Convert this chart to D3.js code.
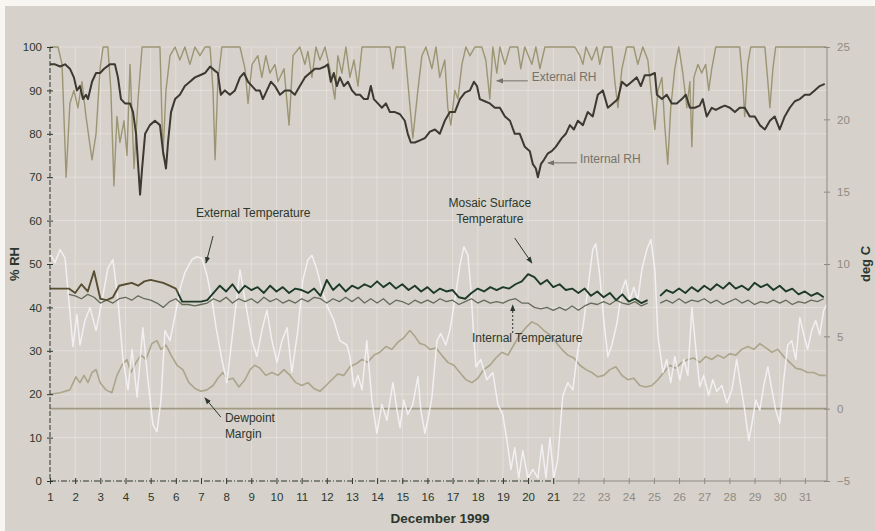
<!DOCTYPE html>
<html>
<head>
<meta charset="utf-8">
<script src="https://cdn.jsdelivr.net/npm/d3@7"></script>
<style>
  html, body { margin: 0; padding: 0; background: #f7f6f3; }
  svg { display: block; font-family: "Liberation Sans", Arial, sans-serif; }
</style>
</head>
<body>
<div id="chart"></div>
<script>
/* ===================================================================
   December 1999 — RH / temperature record (scanned chart, redrawn)
   left axis % RH, right axis deg C, x = day of month
   =================================================================== */
(function () {
  "use strict";

  // ---- data -------------------------------------------------------
  // [day, % RH]
  var extRh = [[1.00,100],[1.32,100],[1.48,96],[1.64,70],[1.79,87],[1.95,90],[2.11,86],[2.27,92],[2.43,84],
    [2.67,74],[2.83,80],[2.99,95],[3.11,100],[3.30,100],[3.42,90],[3.54,68],[3.66,84],[3.78,78],[3.94,83],
    [4.06,75],[4.18,96],[4.34,72],[4.50,88],[4.66,100],[4.97,100],[5.17,100],[5.37,100],[5.49,75],[5.61,90],
    [5.77,98],[5.97,100],[6.16,97],[6.36,100],[6.56,96],[6.76,100],[6.96,98],[7.16,100],[7.36,100],[7.48,90],
    [7.56,74],[7.67,92],[7.83,100],[8.15,100],[8.55,100],[8.75,95],[8.87,87],[9.03,96],[9.26,98],[9.42,93],
    [9.58,98],[9.74,94],[9.94,96],[10.06,92],[10.30,95],[10.50,82],[10.66,98],[10.93,100],[11.13,96],
    [11.25,99],[11.41,93],[11.57,100],[11.73,97],[11.93,100],[12.12,95],[12.32,88],[12.44,98],[12.60,94],
    [12.76,100],[12.92,93],[13.08,97],[13.24,91],[13.40,100],[13.71,100],[14.11,100],[14.51,100],[14.63,95],
    [14.75,100],[15.10,100],[15.22,92],[15.42,79],[15.62,90],[15.78,98],[15.94,100],[16.18,95],[16.34,100],
    [16.49,93],[16.69,97],[16.81,86],[16.93,82],[17.09,90],[17.21,88],[17.37,96],[17.53,100],[17.69,98],
    [17.89,100],[18.16,100],[18.32,97],[18.48,88],[18.60,100],[18.76,94],[18.88,100],[19.08,96],[19.28,100],
    [19.59,100],[19.71,95],[19.87,100],[20.15,96],[20.31,100],[20.47,95],[20.67,100],[21.06,100],[21.46,100],
    [21.86,100],[22.06,98],[22.18,96],[22.30,100],[22.53,97],[22.73,100],[22.85,96],[23.01,100],[23.33,100],
    [23.45,92],[23.57,86],[23.73,95],[23.92,100],[24.20,100],[24.36,96],[24.56,100],[24.76,97],[24.92,88],
    [25.04,81],[25.16,90],[25.32,93],[25.43,82],[25.55,73],[25.67,86],[25.83,95],[25.99,100],[26.15,94],
    [26.31,86],[26.43,92],[26.51,77],[26.59,93],[26.75,96],[26.90,94],[27.06,96],[27.18,90],[27.30,95],
    [27.46,100],[28.02,100],[28.41,100],[28.53,92],[28.61,84],[28.73,96],[28.85,100],[29.41,100],[29.53,92],
    [29.61,86],[29.73,95],[29.84,100],[30.80,100],[31.87,100]];

  var intRh = [[1.00,96],[1.20,96],[1.40,95.5],[1.60,96],[1.79,95],[1.95,93],[2.07,90],[2.19,91],[2.31,88],
    [2.43,89],[2.51,88],[2.67,92],[2.83,94],[2.99,94],[3.15,95],[3.38,96],[3.58,96],[3.70,93],[3.82,88],
    [3.98,87],[4.18,87],[4.30,85],[4.42,80],[4.50,73],[4.58,66],[4.66,72],[4.78,80],[4.97,82],[5.17,83],
    [5.37,82],[5.49,76],[5.61,72],[5.69,78],[5.81,85],[5.97,88],[6.16,89],[6.36,91],[6.56,92],[6.76,93],
    [6.96,93.5],[7.16,94],[7.36,95.5],[7.56,94.5],[7.67,94],[7.79,89],[7.95,90],[8.15,89],[8.35,90],[8.55,93],
    [8.71,94],[8.87,92],[9.03,91],[9.18,90],[9.34,90],[9.46,88],[9.62,90],[9.78,92],[9.94,91],[10.14,89],
    [10.34,90],[10.54,90],[10.73,89],[10.93,91],[11.13,93],[11.33,94],[11.53,95],[11.73,95],[11.93,95.5],
    [12.04,96],[12.16,92],[12.28,94],[12.40,91],[12.52,93],[12.68,91],[12.84,92],[13.00,90],[13.16,89],
    [13.32,89],[13.48,88],[13.63,88],[13.75,91],[13.87,88],[14.03,87],[14.19,86],[14.35,87],[14.51,85],
    [14.71,85],[14.91,84.5],[15.10,83],[15.22,80],[15.34,78],[15.50,78],[15.70,78.5],[15.90,79],[16.10,80.5],
    [16.30,81],[16.49,80],[16.69,83],[16.89,85],[17.09,85],[17.29,88],[17.49,89.5],[17.69,90],[17.85,92],
    [17.97,91],[18.08,88],[18.28,87.5],[18.48,87],[18.68,86],[18.88,86],[19.08,84],[19.28,83],[19.47,80],
    [19.67,80],[19.87,77],[20.07,76],[20.19,73],[20.31,72],[20.39,70],[20.51,73],[20.63,74],[20.79,75.5],
    [20.94,76],[21.10,77],[21.34,79],[21.50,80],[21.66,82],[21.82,81],[21.98,83],[22.18,82],[22.37,85],
    [22.57,84],[22.77,89],[22.97,90],[23.17,86],[23.37,87],[23.57,88],[23.73,92],[23.92,91],[24.12,92],
    [24.32,93],[24.48,91],[24.64,93.5],[24.84,93.5],[25.04,94],[25.12,89],[25.32,88],[25.51,89],[25.71,87],
    [25.91,87],[26.11,88],[26.27,89],[26.43,86],[26.63,86],[26.82,86.5],[26.94,88],[27.10,84],[27.30,86],
    [27.46,85.5],[27.62,86],[27.82,86.5],[28.02,86],[28.22,85],[28.41,86],[28.61,86],[28.81,84],[29.01,84],
    [29.21,82],[29.41,81],[29.61,83],[29.80,84],[30.00,81],[30.20,84],[30.40,86],[30.60,87.5],[30.80,88],
    [31.00,89],[31.19,89],[31.39,90],[31.59,91],[31.79,91.5]];

  // [day, deg C]
  var extTemp = [[1.00,10.7],[1.20,10.1],[1.40,11.0],[1.60,10.4],[1.75,7.5],[1.91,4.3],[2.07,6.5],[2.19,4.4],
    [2.39,6.1],[2.59,7.0],[2.83,5.4],[3.07,7.5],[3.30,9.7],[3.50,10.3],[3.70,7.5],[3.90,3.4],[4.10,1.3],
    [4.26,4.1],[4.46,0.8],[4.69,5.6],[4.89,2.0],[5.09,-1.1],[5.25,-1.6],[5.41,0.6],[5.57,5.4],[5.77,4.7],
    [6.01,6.8],[6.20,8.5],[6.36,9.4],[6.64,10.3],[6.84,10.5],[7.04,10.4],[7.24,9.2],[7.44,7.5],[7.60,5.6],
    [7.83,3.4],[8.03,1.8],[8.27,5.4],[8.55,9.6],[8.75,7.5],[9.03,4.7],[9.22,3.6],[9.42,5.4],[9.62,6.8],
    [9.82,4.7],[10.02,3.2],[10.22,4.7],[10.42,5.6],[10.61,2.5],[10.85,5.4],[11.05,8.9],[11.25,10.3],
    [11.41,10.6],[11.61,9.6],[11.81,8.2],[12.04,7.0],[12.28,6.1],[12.52,4.7],[12.80,4.4],[12.92,3.6],
    [13.08,1.5],[13.24,2.3],[13.40,1.3],[13.59,4.7],[13.79,0.6],[13.99,-1.7],[14.19,0.3],[14.39,-0.8],
    [14.63,1.8],[14.79,-0.1],[14.91,-1.3],[15.06,0.6],[15.22,-0.4],[15.42,0.3],[15.62,2.2],[15.74,-0.1],
    [15.90,-1.7],[16.06,-0.4],[16.18,0.8],[16.38,4.7],[16.53,5.2],[16.73,4.4],[16.89,5.4],[17.09,7.5],
    [17.29,9.9],[17.45,11.2],[17.61,10.6],[17.73,8.2],[17.85,4.7],[17.93,2.9],[18.12,3.4],[18.36,2.0],
    [18.60,2.5],[18.80,0.3],[18.99,-0.4],[19.16,-2.2],[19.32,-4.2],[19.47,-2.7],[19.63,-4.8],[19.79,-2.9],
    [19.99,-4.8],[20.19,-4.2],[20.39,-4.8],[20.55,-2.5],[20.71,-4.8],[20.87,-2.0],[21.02,-4.8],[21.18,-3.5],
    [21.38,0.9],[21.58,1.8],[21.78,1.3],[21.98,4.1],[22.18,5.6],[22.37,8.2],[22.57,11.0],[22.69,11.4],
    [22.85,9.2],[23.01,6.1],[23.17,3.6],[23.33,4.4],[23.53,5.9],[23.73,8.2],[23.88,8.9],[24.04,7.5],
    [24.20,8.4],[24.36,7.5],[24.52,9.6],[24.72,11.0],[24.88,11.7],[25.04,9.6],[25.16,5.0],[25.36,2.5],
    [25.51,3.4],[25.67,1.8],[25.83,3.6],[26.03,2.0],[26.19,3.4],[26.35,2.3],[26.51,7.0],[26.67,4.1],
    [26.82,1.5],[26.98,2.3],[27.18,0.9],[27.34,2.0],[27.50,1.2],[27.70,1.6],[27.90,0.4],[28.10,1.3],
    [28.29,3.4],[28.45,1.6],[28.61,-0.1],[28.77,-2.2],[28.89,-1.1],[29.05,0.6],[29.21,-0.1],[29.37,1.6],
    [29.53,2.9],[29.69,1.3],[29.84,-0.1],[30.00,-1.0],[30.16,2.0],[30.32,4.4],[30.48,4.7],[30.64,3.4],
    [30.80,6.3],[30.96,5.1],[31.11,4.1],[31.27,5.4],[31.43,6.1],[31.59,5.1],[31.75,6.8],[31.87,7.2]];

  // logger readings every 6 h from 1 Dec 00:00 (null = no reading)
  var mosaicQ = [8.3,8.3,8.3,8.3, 8.0,8.6,8.1,9.5, 7.6,7.5,7.7,8.5, 8.6,8.7,8.5,8.8, 8.9,8.8,8.7,8.5,
    8.3,7.4,7.4,7.4, 7.4,7.5,8.0,8.5, 8.1,8.6,8.0,8.5, 8.2,8.4,8.0,8.5, 8.1,8.4,8.0,8.3,
    8.2,8.0,8.3,7.8, 8.9,8.2,8.6,8.1, 8.5,8.3,8.6,8.4, 8.8,8.4,8.7,8.3, 8.6,8.2,8.5,8.1,
    8.4,8.0,8.3,8.1, 8.2,7.7,7.6,8.0, 8.3,8.1,8.4,8.2, 8.4,8.3,8.6,8.8, 9.3,9.1,8.6,8.9,
    8.4,8.6,8.2,8.3, 8.0,8.3,7.8,8.1, 7.7,8.0,7.5,7.9, 7.4,7.6,7.3,7.5, null,7.8,8.2,8.0,
    8.3,8.0,8.4,8.1, 8.5,8.2,8.6,8.3, 8.7,8.3,8.5,8.2, 8.7,8.4,8.6,8.2, 8.5,8.1,8.3,7.9,
    8.1,7.8,8.0,7.7];

  var intTempQ = [null,null,null,7.9, 7.8,7.6,7.9,7.7, 7.3,7.5,7.3,7.6, 7.7,7.5,7.8,7.6, 7.5,7.3,7.0,7.4,
    7.6,7.2,7.2,7.1, 7.2,7.3,7.6,7.4, 7.7,7.3,7.6,7.4, 7.6,7.3,7.7,7.4, 7.6,7.3,7.5,7.3,
    7.6,7.4,7.7,7.6, 7.3,7.6,7.4,7.7, 7.4,7.7,7.3,7.6, 7.3,7.6,7.2,7.5, 7.4,7.2,7.5,7.3,
    7.5,7.3,7.6,7.4, 7.5,7.2,7.4,7.6, 7.3,7.5,7.3,7.4, 7.3,7.5,7.6,7.3, 7.3,7.0,6.9,7.0,
    6.8,7.0,6.8,7.1, 6.8,7.1,7.3,7.2, 7.4,7.2,7.5,7.3, 7.2,7.4,7.1,7.3, null,7.3,7.5,7.3,
    7.6,7.3,7.5,7.4, 7.6,7.3,7.5,7.2, 7.4,7.6,7.3,7.5, 7.2,7.4,7.3,7.5, 7.3,7.5,7.2,7.4,
    7.3,7.5,7.4,7.6];

  var dewMargin = [[1.00,1.0],[1.40,1.1],[1.79,1.3],[2.03,2.2],[2.19,1.8],[2.35,2.3],[2.51,1.8],[2.67,2.5],
    [2.83,2.7],[2.99,1.8],[3.22,1.3],[3.46,1.1],[3.66,2.3],[3.86,3.0],[4.06,3.4],[4.22,2.5],[4.42,3.2],
    [4.62,3.7],[4.81,3.4],[5.05,4.5],[5.25,4.7],[5.41,4.1],[5.61,4.4],[5.81,3.7],[6.05,3.0],[6.28,2.7],
    [6.52,1.8],[6.76,1.4],[7.00,1.2],[7.24,1.3],[7.48,1.6],[7.67,2.1],[7.87,2.5],[8.07,2.0],[8.27,2.1],
    [8.51,1.5],[8.75,2.0],[8.95,2.7],[9.14,3.0],[9.34,2.8],[9.58,2.3],[9.82,2.5],[10.06,2.3],[10.30,2.7],
    [10.54,2.3],[10.77,1.8],[11.01,1.6],[11.25,1.8],[11.49,1.4],[11.73,1.2],[11.97,1.6],[12.20,2.0],
    [12.44,2.4],[12.68,2.3],[12.92,2.9],[13.16,3.1],[13.40,3.4],[13.63,3.2],[13.87,3.7],[14.11,3.9],
    [14.35,4.3],[14.59,4.1],[14.83,4.6],[15.06,4.9],[15.30,5.4],[15.50,5.0],[15.70,4.5],[15.90,4.4],
    [16.10,4.1],[16.34,4.2],[16.57,3.7],[16.81,3.2],[17.05,3.0],[17.29,2.5],[17.53,2.0],[17.77,1.8],
    [18.00,2.1],[18.24,2.7],[18.48,3.0],[18.72,3.5],[18.96,3.9],[19.20,3.7],[19.43,4.4],[19.67,5.1],
    [19.91,5.6],[20.15,6.0],[20.39,5.8],[20.63,5.4],[20.87,5.1],[21.10,4.6],[21.34,4.1],[21.58,3.7],
    [21.82,3.5],[22.06,3.0],[22.30,2.7],[22.53,2.5],[22.77,2.2],[23.01,2.3],[23.25,2.7],[23.49,2.9],
    [23.73,2.3],[23.96,2.0],[24.20,2.1],[24.44,1.6],[24.68,1.5],[24.92,1.6],[25.16,2.0],[25.39,2.5],
    [25.63,3.0],[25.87,2.8],[26.11,3.2],[26.35,3.4],[26.59,3.5],[26.82,3.2],[27.06,3.6],[27.30,3.4],
    [27.54,3.7],[27.78,3.5],[28.02,3.8],[28.26,3.7],[28.49,4.1],[28.73,4.3],[28.97,4.1],[29.21,4.5],
    [29.45,4.2],[29.69,3.9],[29.92,4.1],[30.16,3.6],[30.40,3.2],[30.64,2.8],[30.88,2.7],[31.11,2.5],
    [31.35,2.5],[31.59,2.3],[31.83,2.3]];

  var dayTicks = d3.range(1, 32);
  var rhTicks = d3.range(0, 101, 10);
  var degTicks = d3.range(-5, 26, 5);

  // ---- palette ---------------------------------------------------
  var C = {
    paper: "#d6d1ca", grid: "rgba(255,255,255,0.3)", ink: "#2c372d", inkSoft: "#76736b",
    faint: "#8f8b83", extRh: "#9b9574", intRh: "#3b3930", extT: "rgba(247,245,250,0.85)",
    mosaic: "#1d3a26", mosaicEarly: "#574e31", intT: "#656b5a", dew: "#aaa58b", zero: "#a29b84"
  };

  var W = 875, H = 531;
  var x = d3.scaleLinear().domain([1, 31.88]).range([50, 827]);
  var yL = d3.scaleLinear().domain([0, 100]).range([481, 47]);
  var yR = d3.scaleLinear().domain([-5, 25]).range([481, 47]);

  var svg = d3.select("#chart").append("svg").attr("width", W).attr("height", H);
  svg.append("rect").attr("x", 5).attr("y", 6).attr("width", W - 5).attr("height", H - 6).attr("fill", C.paper);

  var defs = svg.append("defs");
  defs.append("marker").attr("id", "ah").attr("viewBox", "0 0 8 8")
    .attr("refX", 7).attr("refY", 4).attr("markerWidth", 7).attr("markerHeight", 7)
    .attr("orient", "auto")
    .append("path").attr("d", "M0,1 L8,4 L0,7 Z").attr("fill", C.ink);
  defs.append("marker").attr("id", "ahGrey").attr("viewBox", "0 0 8 8")
    .attr("refX", 7).attr("refY", 4).attr("markerWidth", 7).attr("markerHeight", 7)
    .attr("orient", "auto")
    .append("path").attr("d", "M0,1 L8,4 L0,7 Z").attr("fill", C.inkSoft);

  // early part of the surface trace prints brownish on the scan
  var split = (x(6.1) - x(1)) / (x(31.88) - x(1));
  var grad = defs.append("linearGradient").attr("id", "mosaicGrad")
    .attr("gradientUnits", "userSpaceOnUse")
    .attr("x1", x(1)).attr("x2", x(31.88)).attr("y1", 0).attr("y2", 0);
  grad.append("stop").attr("offset", split).attr("stop-color", C.mosaicEarly);
  grad.append("stop").attr("offset", split).attr("stop-color", C.mosaic);

  // ---- grid --------------------------------------------------------
  var grid = svg.append("g");
  grid.selectAll("line.v").data(dayTicks.slice(1)).enter().append("line")
    .attr("x1", function (d) { return x(d); }).attr("x2", function (d) { return x(d); })
    .attr("y1", yL(100)).attr("y2", yL(0))
    .attr("stroke", C.grid).attr("stroke-width", 1);
  grid.selectAll("line.h").data(rhTicks.slice(1)).enter().append("line")
    .attr("x1", x(1)).attr("x2", x(31.88))
    .attr("y1", function (d) { return yL(d); }).attr("y2", function (d) { return yL(d); })
    .attr("stroke", C.grid).attr("stroke-width", 1);

  // 0 deg C reference
  svg.append("line").attr("x1", x(1)).attr("x2", x(31.88))
    .attr("y1", yR(0)).attr("y2", yR(0))
    .attr("stroke", C.zero).attr("stroke-width", 1.6);

  // ---- series ------------------------------------------------------
  function quarter(arr) {
    return arr.map(function (v, i) { return [1 + i / 4, v]; });
  }
  var lineL = d3.line().defined(function (d) { return d[1] != null; })
    .x(function (d) { return x(d[0]); }).y(function (d) { return yL(d[1]); });
  var lineR = d3.line().defined(function (d) { return d[1] != null; })
    .x(function (d) { return x(d[0]); }).y(function (d) { return yR(d[1]); });

  function draw(data, gen, color, width) {
    return svg.append("path").datum(data).attr("d", gen)
      .attr("fill", "none").attr("stroke", color).attr("stroke-width", width)
      .attr("stroke-linejoin", "round");
  }

  draw(dewMargin, lineR, C.dew, 1.6);
  draw(extTemp, lineR, C.extT, 1.5);
  draw(quarter(intTempQ), lineR, C.intT, 1.3);
  draw(quarter(mosaicQ), lineR, "url(#mosaicGrad)", 1.9);
  draw(extRh, lineL, C.extRh, 1.4);
  draw(intRh, lineL, C.intRh, 2);

  // ---- axes --------------------------------------------------------
  var axL = svg.append("g").attr("transform", "translate(" + x(1) + ",0)")
    .call(d3.axisLeft(yL).tickValues(rhTicks).tickSize(3).tickPadding(5));
  var axB = svg.append("g").attr("transform", "translate(0," + yL(0) + ")")
    .call(d3.axisBottom(x).tickValues(dayTicks).tickSize(3).tickPadding(9));
  var axR = svg.append("g").attr("transform", "translate(" + x(31.88) + ",0)")
    .call(d3.axisRight(yR).tickValues(degTicks).tickSize(3).tickPadding(7));

  [axL, axB, axR].forEach(function (a) {
    a.select(".domain").remove();
    a.selectAll("text").attr("font-family", "Liberation Sans, Arial, sans-serif").attr("font-size", 11.5);
  });
  axL.selectAll(".tick line").attr("x1", 3).attr("stroke", C.ink);
  axL.selectAll(".tick text").attr("fill", C.ink);
  axB.selectAll(".tick line").attr("y1", -3).attr("stroke", function (d) { return d > 21 ? C.faint : C.ink; });
  axB.selectAll(".tick text").attr("fill", function (d) { return d > 21 ? C.faint : C.ink; });
  axR.selectAll(".tick line").attr("x1", -3).attr("stroke", C.faint);
  axR.selectAll(".tick text").attr("fill", C.faint);

  // axis lines (dashed on the dark part of the scan, faded grey on the right)
  svg.append("line").attr("x1", x(1)).attr("x2", x(1)).attr("y1", yL(100)).attr("y2", yL(0))
    .attr("stroke", C.ink).attr("stroke-width", 1).attr("stroke-dasharray", "5,2");
  svg.append("line").attr("x1", x(1)).attr("x2", x(21.1)).attr("y1", yL(0)).attr("y2", yL(0))
    .attr("stroke", C.ink).attr("stroke-width", 1).attr("stroke-dasharray", "6,2,1,2");
  svg.append("line").attr("x1", x(21.1)).attr("x2", x(31.88)).attr("y1", yL(0)).attr("y2", yL(0))
    .attr("stroke", C.faint).attr("stroke-width", 1);
  svg.append("line").attr("x1", x(31.88)).attr("x2", x(31.88)).attr("y1", yR(25)).attr("y2", yR(-5))
    .attr("stroke", C.faint).attr("stroke-width", 1);

  // axis titles
  svg.append("text").attr("transform", "translate(19," + yL(50) + ") rotate(-90)")
    .attr("text-anchor", "middle").attr("font-weight", "bold").attr("font-size", 13)
    .attr("fill", C.ink).text("% RH");
  svg.append("text").attr("transform", "translate(870," + yR(10) + ") rotate(-90)")
    .attr("text-anchor", "middle").attr("font-weight", "bold").attr("font-size", 13)
    .attr("fill", C.ink).text("deg C");
  svg.append("text").attr("x", x(16.5)).attr("y", 523)
    .attr("text-anchor", "middle").attr("font-weight", "bold").attr("font-size", 13.5)
    .attr("fill", C.ink).text("December 1999");

  // ---- annotations (positions in data units) -----------------------
  var notes = [
    { lines: ["External RH"], at: [20.15, 92.2], sc: yL, color: C.inkSoft, marker: "ahGrey",
      from: [19.99, 92.2], to: [18.76, 92.2] },
    { lines: ["Internal RH"], at: [22.06, 73.3], sc: yL, color: C.inkSoft, marker: "ahGrey",
      from: [21.94, 73.3], to: [20.79, 73.3] },
    { lines: ["External Temperature"], at: [6.8, 13.24], sc: yR, color: C.ink, marker: "ah",
      from: [7.48, 11.93], to: [7.20, 10.07] },
    { lines: ["Mosaic Surface", "Temperature"], at: [18.48, 13.94], sc: yR, color: C.ink, marker: "ah",
      anchor: "middle", from: [19.47, 11.79], to: [20.15, 10.07] },
    { lines: ["Internal Temperature"], at: [17.77, 4.6], sc: yR, color: C.ink, marker: "ah",
      from: [19.39, 5.23], to: [19.39, 7.16], dash: "2,2" },
    { lines: ["Dewpoint", "Margin"], at: [7.95, -0.92], sc: yR, color: C.ink, marker: "ah",
      from: [7.79, -0.58], to: [7.16, 0.74] }
  ];

  notes.forEach(function (n) {
    var t = svg.append("text").attr("x", x(n.at[0])).attr("y", n.sc(n.at[1]))
      .attr("dy", "0.35em").attr("font-size", 12).attr("fill", n.color)
      .attr("text-anchor", n.anchor || "start");
    n.lines.forEach(function (s, i) {
      t.append("tspan").attr("x", x(n.at[0])).attr("dy", i ? "1.3em" : 0).text(s);
    });
    svg.append("line")
      .attr("x1", x(n.from[0])).attr("y1", n.sc(n.from[1]))
      .attr("x2", x(n.to[0])).attr("y2", n.sc(n.to[1]))
      .attr("stroke", n.color).attr("stroke-width", 1)
      .attr("stroke-dasharray", n.dash || null)
      .attr("marker-end", "url(#" + n.marker + ")");
  });
})();
</script>
</body>
</html>
